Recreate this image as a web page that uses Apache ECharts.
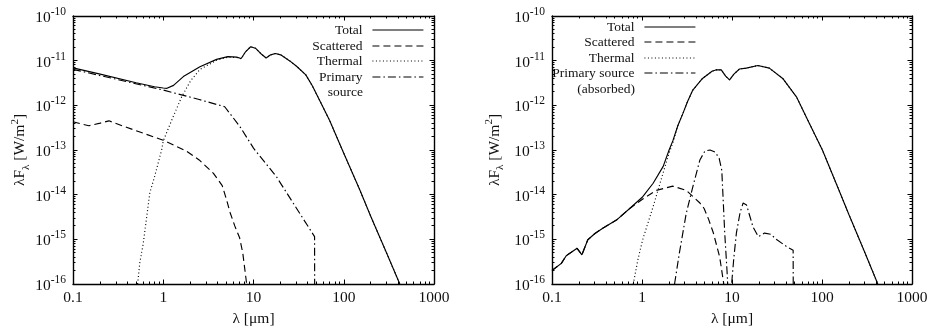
<!DOCTYPE html>
<html>
<head>
<meta charset="utf-8">
<script src="https://cdn.jsdelivr.net/npm/echarts@6/dist/echarts.min.js"></script>
<style>
  html, body { margin: 0; padding: 0; background: #fff; }
  #chart { width: 930px; height: 327px; }
</style>
</head>
<body>
<div id="chart"></div>
<script>
// SED panels: left = unobscured source, right = primary source absorbed
// values are [wavelength um, lambda*F_lambda W/m^2]

const LAMBDA_RANGE = [0.1, 1000]
const FLUX_RANGE = [1e-16, 1e-10]

// --- left panel ---
const leftTotal = [
  [0.1, 6.9e-12], [0.2, 5.0e-12], [0.5, 3.2e-12], [0.8, 2.6e-12], [1.0, 2.45e-12],
  [1.1, 2.4e-12], [1.3, 2.8e-12], [1.67, 4.4e-12], [2.55, 7.3e-12], [3.9, 1.07e-11],
  [5.2, 1.23e-11], [6.5, 1.2e-11], [7.3, 1.12e-11], [8.2, 1.6e-11], [9.3, 2.05e-11],
  [10.5, 1.9e-11], [12, 1.45e-11], [13.8, 1.15e-11], [15.5, 1.35e-11], [17.5, 1.45e-11],
  [20, 1.35e-11], [25, 1.0e-11], [30, 7.5e-12], [38, 4.8e-12], [45, 2.7e-12],
  [55, 1.2e-12], [70, 4.5e-13], [85, 1.8e-13], [100, 8.5e-14], [150, 1.3e-14],
  [200, 3.2e-15], [300, 4.8e-16], [418, 1e-16]
]
const leftScattered = [
  [0.1, 4.3e-13], [0.125, 3.8e-13], [0.15, 3.5e-13], [0.2, 4.0e-13], [0.25, 4.5e-13],
  [0.35, 3.5e-13], [0.5, 2.7e-13], [1.0, 1.65e-13], [1.8, 9.5e-14], [2.5, 6e-14],
  [3.6, 3e-14], [4.5, 1.6e-14], [5.0, 8e-15], [5.5, 4e-15], [6.2, 2e-15],
  [7.0, 1.1e-15], [7.6, 5e-16], [8.4, 1e-16]
]
const leftThermal = [
  [0.52, 1e-16], [0.55, 3e-16], [0.6, 8e-16], [0.71, 1.1e-14], [0.8, 2.5e-14],
  [0.96, 1e-13], [1.0, 1.6e-13], [1.29, 5.6e-13], [1.6, 1.55e-12], [2.0, 3.5e-12],
  [2.55, 6.4e-12], [3.9, 1.02e-11], [5.2, 1.2e-11], [6.5, 1.18e-11], [7.3, 1.1e-11]
].concat(leftTotal.filter(p => p[0] >= 8.2))
const leftPrimary = [
  [0.1, 6.4e-12], [1.0, 2.2e-12], [2.5, 1.35e-12], [4.8, 9.3e-13], [7.1, 3.3e-13],
  [10, 1.1e-13], [18, 2.5e-14], [27.5, 6.5e-15], [47.5, 1.15e-15], [47.6, 1e-16]
]

// --- right panel ---
const rightTotal = [
  [0.1, 2e-16], [0.127, 2.9e-16], [0.144, 4.3e-16], [0.19, 6.3e-16], [0.215, 4.5e-16],
  [0.25, 9.8e-16], [0.3, 1.35e-15], [0.37, 1.8e-15], [0.52, 2.7e-15], [0.73, 4.9e-15],
  [1.02, 9e-15], [1.33, 1.8e-14], [1.72, 4.3e-14], [2.0, 1.0e-13], [2.2, 1.6e-13],
  [2.5, 3.5e-13], [2.85, 6.6e-13], [3.2, 1.2e-12], [3.67, 2.2e-12], [4.7, 4.0e-12],
  [6.0, 5.8e-12], [6.6, 6.2e-12], [7.6, 6.2e-12], [8.5, 4.5e-12], [9.4, 3.7e-12],
  [10.5, 5e-12], [12.1, 6.5e-12], [14.4, 6.8e-12], [19.4, 7.8e-12], [26, 6.8e-12],
  [36.6, 4.0e-12], [52, 1.55e-12], [72, 4.0e-13], [101, 1.0e-13], [150, 1.45e-14],
  [200, 3.5e-15], [300, 5e-16], [417, 1e-16]
]
const rightScattered = rightTotal.filter(p => p[0] <= 0.9).concat([
  [1.02, 8e-15], [1.44, 1.25e-14], [2.2, 1.55e-14], [3.1, 1.25e-14], [4.4, 6.5e-15],
  [4.9, 4.9e-15], [5.5, 2.8e-15], [6.2, 1.4e-15], [7.3, 4e-16], [8.1, 1e-16]
])
const rightThermal = [
  [0.8, 1e-16], [0.9, 3.5e-16], [1.02, 1e-15], [1.33, 5.4e-15], [1.71, 3e-14],
  [2.0, 8.5e-14], [2.2, 1.45e-13]
].concat(rightTotal.filter(p => p[0] >= 2.5))
const rightPrimary = [
  [2.3, 1e-16], [2.6, 4.9e-16], [3.1, 3.8e-15], [3.67, 1.5e-14], [4.4, 6e-14],
  [5.0, 9.5e-14], [5.7, 1.0e-13], [6.5, 9e-14], [7.2, 6.5e-14], [7.7, 3.5e-14],
  [8.3, 1.4e-15], [8.8, 2e-16], [9.5, 1e-17], [9.9, 1e-16], [10.5, 4e-16],
  [11.2, 1.4e-15], [12.3, 4e-15], [13.3, 6.5e-15], [14.5, 5.9e-15], [16, 3e-15],
  [17.1, 1.9e-15], [19.6, 1.15e-15], [23, 1.38e-15], [27, 1.3e-15], [31, 1e-15],
  [40, 7e-16], [47.8, 5.7e-16], [47.9, 1e-16]
]

const SERIF = 'Liberation Serif'
const INK = '#111'

// gnuplot style dash patterns
const DASHED = [7, 4]
const DOTTED = [1, 2.5]
const DASHDOT = [8, 3, 1.5, 3]

// log minor ticks at 2..9 of every decade
function minorTicks(lo, hi) {
  const out = []
  for (let d = lo; d < hi * 0.999; d *= 10) {
    for (let k = 2; k <= 9; k++) out.push(d * k)
  }
  return out
}
const xMinor = minorTicks(LAMBDA_RANGE[0], LAMBDA_RANGE[1])
const yMinor = minorTicks(FLUX_RANGE[0], FLUX_RANGE[1])

function crisp(v) { return Math.round(v - 0.5) + 0.5 }

function xMinorItem(params, api) {
  const v = api.value(0)
  const b = api.coord([v, FLUX_RANGE[0]])
  const t = api.coord([v, FLUX_RANGE[1]])
  const x = crisp(b[0])
  const st = { stroke: '#000', lineWidth: 1 }
  return { type: 'group', children: [
    { type: 'line', shape: { x1: x, y1: b[1], x2: x, y2: b[1] - 2.5 }, style: st },
    { type: 'line', shape: { x1: x, y1: t[1], x2: x, y2: t[1] + 2.5 }, style: st }
  ] }
}
function yMinorItem(params, api) {
  const v = api.value(1)
  const l = api.coord([LAMBDA_RANGE[0], v])
  const r = api.coord([LAMBDA_RANGE[1], v])
  const y = crisp(l[1])
  const st = { stroke: '#000', lineWidth: 1 }
  return { type: 'group', children: [
    { type: 'line', shape: { x1: l[0], y1: y, x2: l[0] + 2.5, y2: y }, style: st },
    { type: 'line', shape: { x1: r[0], y1: y, x2: r[0] - 2.5, y2: y }, style: st }
  ] }
}

const FRAME = { show: true, lineStyle: { color: '#000', width: 1.4 } }
const MAJOR_TICK = { show: true, inside: true, length: 4.5, lineStyle: { color: '#000' } }

function xAxes(gridIndex) {
  const common = {
    gridIndex, type: 'log', logBase: 10, min: LAMBDA_RANGE[0], max: LAMBDA_RANGE[1],
    axisLine: FRAME, axisTick: MAJOR_TICK,
    splitLine: { show: false }, minorTick: { show: false }
  }
  return [
    Object.assign({}, common, {
      position: 'bottom',
      name: 'λ [μm]', nameLocation: 'middle', nameGap: 24,
      nameTextStyle: { fontFamily: SERIF, fontSize: 15.5, color: INK },
      axisLabel: {
        margin: 6, fontFamily: SERIF, fontSize: 15.5, color: INK,
        formatter: v => String(Number(v.toPrecision(6)))
      }
    }),
    Object.assign({}, common, { position: 'top', axisLabel: { show: false } })
  ]
}

function yAxes(gridIndex, nameGap) {
  const common = {
    gridIndex, type: 'log', logBase: 10, min: FLUX_RANGE[0], max: FLUX_RANGE[1],
    axisLine: FRAME, axisTick: MAJOR_TICK,
    splitLine: { show: false }, minorTick: { show: false }
  }
  return [
    Object.assign({}, common, {
      position: 'left',
      name: '{n|λF}{sub|λ}{n| [W/m}{sup|2}{n|]}', nameLocation: 'middle', nameRotate: 90, nameGap,
      nameTextStyle: {
        fontFamily: SERIF, fontSize: 15.5, color: INK,
        rich: {
          n: { fontFamily: SERIF, fontSize: 15.5, color: INK, lineHeight: 22, verticalAlign: 'middle' },
          sub: { fontFamily: SERIF, fontSize: 11, color: INK, lineHeight: 12, verticalAlign: 'bottom' },
          sup: { fontFamily: SERIF, fontSize: 11, color: INK, lineHeight: 12, verticalAlign: 'top' }
        }
      },
      axisLabel: {
        margin: 7, color: INK, fontFamily: SERIF, fontSize: 15.5,
        formatter: v => '{b|10}{sup|' + Math.round(Math.log10(v)) + '}',
        rich: {
          b: { fontFamily: SERIF, fontSize: 15.5, color: INK, lineHeight: 20, verticalAlign: 'bottom' },
          sup: { fontFamily: SERIF, fontSize: 11.5, color: INK, lineHeight: 12, verticalAlign: 'top' }
        }
      }
    }),
    Object.assign({}, common, { position: 'right', axisLabel: { show: false } })
  ]
}

function curve(name, data, axisIndex, dash) {
  return {
    name, type: 'line', data, xAxisIndex: axisIndex, yAxisIndex: axisIndex,
    symbol: 'none', smooth: false, clip: true, silent: true, animation: false,
    lineStyle: { color: '#000', width: 1.15, type: dash || 'solid' },
    itemStyle: { color: '#000' }
  }
}

function tickSeries(axisIndex) {
  return [
    { type: 'custom', xAxisIndex: axisIndex, yAxisIndex: axisIndex, silent: true, z: 5,
      data: xMinor.map(v => [v, FLUX_RANGE[0]]), renderItem: xMinorItem },
    { type: 'custom', xAxisIndex: axisIndex, yAxisIndex: axisIndex, silent: true, z: 5,
      data: yMinor.map(v => [LAMBDA_RANGE[0], v]), renderItem: yMinorItem }
  ]
}

// one legend per entry so texts stay right aligned against the samples
function legendItem(name, right, top, formatter) {
  return {
    data: [name], right, top, orient: 'vertical', align: 'right', padding: 0,
    itemWidth: 51, itemHeight: 14, selectedMode: false,
    formatter: formatter || '{name}',
    itemStyle: { opacity: 0 },
    lineStyle: { width: 1.15 },
    textStyle: {
      fontFamily: SERIF, fontSize: 13.5, color: INK, lineHeight: 14,
      padding: [0, 5, 0, 0]
    }
  }
}

// second line of the wrapped legend labels
function legendLine(text, right, top) {
  return {
    type: 'text', right, top, silent: true,
    style: { text, fontFamily: SERIF, fontSize: 13.5, fill: INK }
  }
}

const chart = echarts.init(document.getElementById('chart'), null, { renderer: 'canvas' })

chart.setOption({
  animation: false,
  backgroundColor: '#fff',
  grid: [
    { left: 73, top: 16, width: 361, height: 268, outerBoundsMode: 'none' },
    { left: 552, top: 16, width: 360, height: 268, outerBoundsMode: 'none' }
  ],
  xAxis: xAxes(0).concat(xAxes(1)),
  yAxis: yAxes(0, 41).concat(yAxes(1, 46)),
  legend: [
    legendItem('Total', 506, 23),
    legendItem('Scattered', 506, 39),
    legendItem('Thermal', 506, 54),
    legendItem('Primary source', 506, 70, 'Primary'),
    legendItem('Total', 234, 20),
    legendItem('Scattered', 234, 35),
    legendItem('Thermal', 234, 51),
    legendItem('Primary source (absorbed)', 234, 66, 'Primary source')
  ],
  graphic: [
    legendLine('source', 567, 85),
    legendLine('(absorbed)', 295, 82)
  ],
  series: [
    curve('Scattered', leftScattered, 0, DASHED),
    curve('Thermal', leftThermal, 0, DOTTED),
    curve('Primary source', leftPrimary, 0, DASHDOT),
    curve('Total', leftTotal, 0),
    curve('Scattered', rightScattered, 2, DASHED),
    curve('Thermal', rightThermal, 2, DOTTED),
    curve('Primary source (absorbed)', rightPrimary, 2, DASHDOT),
    curve('Total', rightTotal, 2)
  ].concat(tickSeries(0), tickSeries(2))
})
</script>
</body>
</html>
